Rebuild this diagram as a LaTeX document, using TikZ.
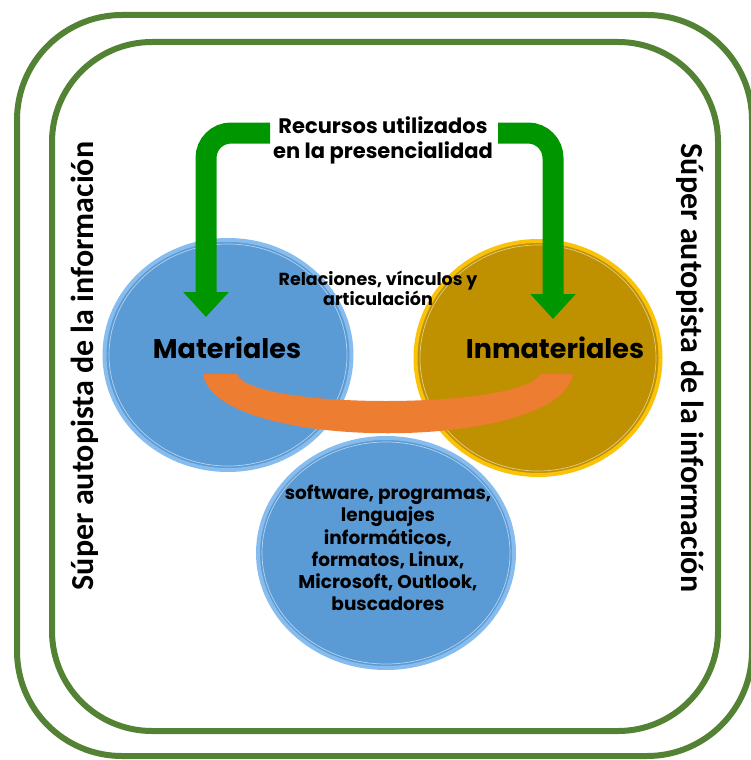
\documentclass[tikz,border=0pt]{standalone}
\usepackage{fontspec}
\setmainfont{Poppins}
\newfontfamily\sidefont{Carlito}
\usetikzlibrary{arrows.meta,calc,shapes.geometric}
\definecolor{framegreen}{RGB}{84,130,53}
\definecolor{skyfill}{RGB}{91,155,213}
\definecolor{skyrim}{RGB}{135,188,238}
\definecolor{goldfill}{RGB}{191,144,0}
\definecolor{goldrim}{RGB}{250,195,10}
\definecolor{arrowgreen}{RGB}{0,150,0}
\definecolor{bandorange}{RGB}{237,125,49}
\begin{document}
\begin{tikzpicture}[x=1pt,y=-1pt,
  frameline/.style={draw=framegreen,line width=6pt},
  bubble/.style={ellipse,inner sep=0pt,line width=4pt},
  bluebubble/.style={bubble,fill=skyfill,draw=skyrim},
  goldbubble/.style={bubble,fill=goldfill,draw=goldrim},
  sheen/.style={draw=white,opacity=0.55,line width=0.7pt},
  bendarrow/.style={draw=arrowgreen,line width=21pt,rounded corners=25pt,
    -{Triangle[width=44pt,length=25pt]}},
  heading/.style={align=center,font=\bfseries\fontsize{21}{25}\selectfont},
  bigword/.style={font=\bfseries\fontsize{27}{30}\selectfont},
  sidetext/.style={font=\sidefont\bfseries\fontsize{32}{36}\selectfont}]
\useasboundingbox (0,0) rectangle (751,760);

% double rounded frame
\draw[frameline,rounded corners=105pt] (17,15) rectangle (752,756);
\draw[frameline,rounded corners=100pt] (52,42) rectangle (718,731);

% side labels
\node[sidetext,rotate=90] (lside) at (85,366) {Súper autopista de la información};
\node[sidetext,rotate=-90] (rside) at (690,368) {Súper autopista de la información};

% the three bubbles
\node[bluebubble,minimum width=247pt,minimum height=230pt] (mat) at (228,355) {};
\node[goldbubble,minimum width=245pt,minimum height=234pt] (inmat) at (538,358) {};
\node[bluebubble,minimum width=256pt,minimum height=230pt] (soft) at (386,553) {};
\draw[sheen] (mat.center) ellipse [x radius=119pt,y radius=111pt];
\draw[sheen] (inmat.center) ellipse [x radius=118pt,y radius=113pt];
\draw[sheen] (soft.center) ellipse [x radius=124pt,y radius=111pt];

% orange link band between the two upper bubbles
\fill[bandorange] (203,374) -- (237,374)
  .. controls (250,410) and (520,410) .. (541,374) -- (573,374)
  .. controls (560,453) and (215,453) .. cycle;

% heading and bent arrows
\node[heading] (title) at (383,140) {Recursos utilizados\\en la presencialidad};
\coordinate (lstart) at (270,133);
\coordinate (lend) at (206,317);
\coordinate (rstart) at (498,133);
\coordinate (rend) at (553,319);
\draw[bendarrow] (lstart) -| (lend);
\draw[bendarrow] (rstart) -| (rend);

% labels
\node[align=center,font=\bfseries\fontsize{17.5}{20}\selectfont] (rel) at (378,288)
  {Relaciones, vínculos y\\articulación};
\node[bigword] (matlbl) at (227,348) {Materiales};
\node[bigword] (inmatlbl) at (555,348) {Inmateriales};
\node[align=center,font=\bfseries\fontsize{18.5}{22.2}\selectfont] (softlbl) at (388,548)
  {software, programas,\\lenguajes\\informáticos,\\formatos, Linux,\\Microsoft, Outlook,\\buscadores};
\end{tikzpicture}
\end{document}
